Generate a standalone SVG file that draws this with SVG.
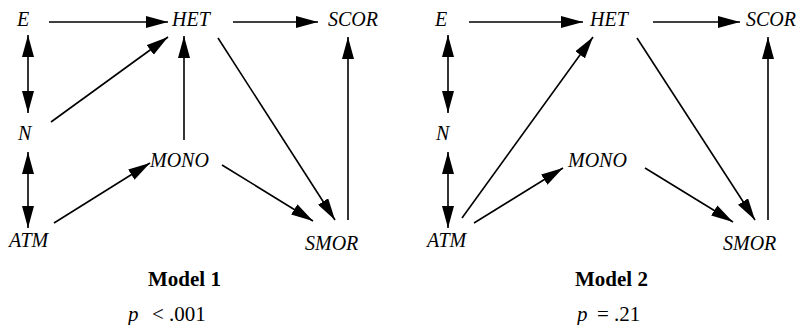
<svg xmlns="http://www.w3.org/2000/svg" width="803" height="325" viewBox="0 0 803 325">
<rect width="803" height="325" fill="#fff"/>
<g id="m1-E"><text font-family="Liberation Serif" font-style="italic" font-size="20" x="17" y="26">E</text></g>
<g id="m1-HET"><text font-family="Liberation Serif" font-style="italic" font-size="20" x="172" y="26">HET</text></g>
<g id="m1-SCOR"><text font-family="Liberation Serif" font-style="italic" font-size="20" x="328" y="26">SCOR</text></g>
<g id="m1-N"><text font-family="Liberation Serif" font-style="italic" font-size="20" x="18" y="140">N</text></g>
<g id="m1-MONO"><text font-family="Liberation Serif" font-style="italic" font-size="20" x="150" y="167">MONO</text></g>
<g id="m1-ATM"><text font-family="Liberation Serif" font-style="italic" font-size="20" x="9" y="247">ATM</text></g>
<g id="m1-SMOR"><text font-family="Liberation Serif" font-style="italic" font-size="20" x="305" y="250">SMOR</text></g>
<g id="m1-title"><text font-family="Liberation Serif" font-weight="bold" font-size="21" x="148" y="286">Model 1</text>
<text font-family="Liberation Serif" font-style="italic" font-size="21" x="128" y="321">p</text>
<text font-family="Liberation Serif" font-size="21" x="152" y="321">&lt; .001</text></g>
<g id="m2-E"><text font-family="Liberation Serif" font-style="italic" font-size="20" x="435" y="26">E</text></g>
<g id="m2-HET"><text font-family="Liberation Serif" font-style="italic" font-size="20" x="590" y="26">HET</text></g>
<g id="m2-SCOR"><text font-family="Liberation Serif" font-style="italic" font-size="20" x="746" y="26">SCOR</text></g>
<g id="m2-N"><text font-family="Liberation Serif" font-style="italic" font-size="20" x="436" y="140">N</text></g>
<g id="m2-MONO"><text font-family="Liberation Serif" font-style="italic" font-size="20" x="568" y="167">MONO</text></g>
<g id="m2-ATM"><text font-family="Liberation Serif" font-style="italic" font-size="20" x="427" y="247">ATM</text></g>
<g id="m2-SMOR"><text font-family="Liberation Serif" font-style="italic" font-size="20" x="723" y="250">SMOR</text></g>
<g id="m2-title"><text font-family="Liberation Serif" font-weight="bold" font-size="21" x="575" y="286">Model 2</text>
<text font-family="Liberation Serif" font-style="italic" font-size="21" x="577" y="321">p</text>
<text font-family="Liberation Serif" font-size="21" x="597" y="321">= .21</text></g>
<defs>
<marker id="ah" markerUnits="userSpaceOnUse" markerWidth="22" markerHeight="12" refX="22" refY="6" orient="auto-start-reverse" viewBox="0 0 22 12">
<path d="M0,0 L22,6 L0,12 z" fill="#000"/>
</marker>
</defs>
<g id="connectors" stroke="#000" stroke-width="1.6" fill="none" marker-end="url(#ah)">
<line x1="49" y1="22" x2="168" y2="22"/>
<line x1="233" y1="22" x2="318" y2="22"/>
<line marker-start="url(#ah)" x1="28" y1="35" x2="28" y2="113"/>
<line marker-start="url(#ah)" x1="28" y1="152" x2="28" y2="228"/>
<line x1="51" y1="122" x2="168" y2="37"/>
<line x1="184" y1="140" x2="184" y2="36"/>
<line x1="218" y1="38" x2="335" y2="220"/>
<line x1="348" y1="220" x2="348" y2="37"/>
<line x1="54" y1="223" x2="150" y2="163"/>
<line x1="222" y1="165" x2="313" y2="221"/>
<line x1="469" y1="22" x2="583" y2="22"/>
<line x1="653" y1="22" x2="740" y2="22"/>
<line marker-start="url(#ah)" x1="448" y1="35" x2="448" y2="113"/>
<line marker-start="url(#ah)" x1="448" y1="152" x2="448" y2="228"/>
<line x1="462" y1="218" x2="593" y2="37"/>
<line x1="637" y1="38" x2="755" y2="220"/>
<line x1="768" y1="220" x2="768" y2="37"/>
<line x1="474" y1="223" x2="563" y2="168"/>
<line x1="645" y1="168" x2="733" y2="222"/>
</g>
</svg>
